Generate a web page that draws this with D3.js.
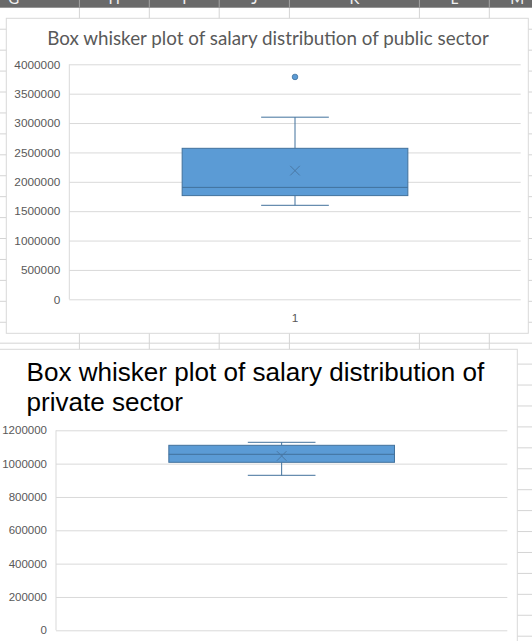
<!DOCTYPE html>
<html>
<head>
<meta charset="utf-8">
<script src="https://cdn.jsdelivr.net/npm/d3@7"></script>
<style>
  html, body { margin: 0; padding: 0; background: #ffffff; }
  svg { display: block; }
</style>
</head>
<body>
<script>
// ---------- DATA ----------
const headerLetters = ["G", "H", "I", "J", "K", "L", "M"];
const categories = ["1"];

const publicTitle = "Box whisker plot of salary distribution of public sector";
const publicTicks = [0, 500000, 1000000, 1500000, 2000000, 2500000, 3000000, 3500000, 4000000];
// [min, q1, median, q3, max]
const publicBox = [1600000, 1765000, 1905000, 2570000, 3100000];
const publicMean = [2190000];
const publicOutliers = [3785000];

const privateTitleLines = ["Box whisker plot of salary distribution of", "private sector"];
const privateTicks = [0, 200000, 400000, 600000, 800000, 1000000, 1200000];
const privateBox = [930000, 1008000, 1056000, 1110000, 1128000];
const privateMean = [1046000];
const privateOutliers = [];

// ---------- STYLE ----------
const W = 532, H = 641;
const BOX_FILL = "#5b9bd5", BOX_STROKE = "#41719c";
const GRID = "#d9d9d9", SHEET = "#d4d4d4", LABEL = "#595959";

const svg = d3.select("body").append("svg").attr("width", W).attr("height", H);

// ---------- spreadsheet background ----------
const colEdges = [-52, 79.4, 149.3, 219.2, 289.4, 419.4, 489.3, 545];
const rowStep = 20.93, rowStart = 8.3;
const rows = d3.range(rowStart + rowStep, H, rowStep);
svg.append("g").selectAll("line").data(rows).join("line")
  .attr("x1", 0).attr("x2", W).attr("y1", d => d).attr("y2", d => d)
  .attr("stroke", SHEET).attr("stroke-width", 1);
svg.append("g").selectAll("line").data(colEdges.slice(1, -1)).join("line")
  .attr("x1", d => d).attr("x2", d => d).attr("y1", 7.7).attr("y2", H)
  .attr("stroke", SHEET).attr("stroke-width", 1);

// header
svg.append("rect").attr("x", 0).attr("y", 0).attr("width", W).attr("height", 7.7).attr("fill", "#6a6a6a");
svg.append("g").selectAll("line").data(colEdges.slice(1, -1)).join("line")
  .attr("x1", d => d).attr("x2", d => d).attr("y1", 0).attr("y2", 7.7)
  .attr("stroke", "#a3a3a3").attr("stroke-width", 1);
svg.append("g").selectAll("text").data(headerLetters).join("text")
  .attr("x", (d, i) => (colEdges[i] + colEdges[i + 1]) / 2)
  .attr("y", 3.5)
  .attr("text-anchor", "middle")
  .attr("font-family", "Lato, 'Open Sans', sans-serif")
  .attr("font-size", 15)
  .attr("fill", "#f2f2f2")
  .text(d => d);

// ---------- helpers ----------
function fitWidth(sel, target) {
  const w = sel.node().getComputedTextLength();
  const fs = parseFloat(sel.attr("font-size"));
  sel.attr("font-size", fs * target / w);
}

function drawChart(opt) {
  const g = svg.append("g");
  // chart area
  g.append("rect")
    .attr("x", opt.frame[0]).attr("y", opt.frame[1])
    .attr("width", opt.frame[2]).attr("height", opt.frame[3])
    .attr("fill", "#ffffff").attr("stroke", GRID).attr("stroke-width", 1);

  const y = d3.scaleLinear().domain([0, d3.max(opt.ticks)]).range([opt.plot.bottom, opt.plot.top]);
  const x = d3.scaleBand().domain(categories).range([opt.plot.left, opt.plot.right])
    .paddingInner(0).paddingOuter(0.5);

  // y axis with gridlines
  const yAxis = d3.axisLeft(y).tickValues(opt.ticks).tickFormat(d3.format("d"))
    .tickSize(-(opt.plot.right - opt.plot.left)).tickPadding(opt.tickPad);
  const ya = g.append("g").attr("transform", `translate(${opt.plot.left},0)`).call(yAxis);
  ya.select(".domain").remove();
  ya.selectAll(".tick line").attr("stroke", GRID).attr("stroke-width", 1);
  ya.selectAll(".tick text")
    .attr("fill", LABEL)
    .attr("font-family", "'Liberation Sans', Arial, sans-serif")
    .attr("font-size", opt.tickFont);

  // left axis line
  g.append("line")
    .attr("x1", opt.plot.left).attr("x2", opt.plot.left)
    .attr("y1", y(d3.max(opt.ticks))).attr("y2", y(0))
    .attr("stroke", GRID).attr("stroke-width", 1);

  // x axis label
  const xAxis = d3.axisBottom(x).tickSize(0).tickPadding(opt.xPad);
  const xa = g.append("g").attr("transform", `translate(0,${y(0)})`).call(xAxis);
  xa.select(".domain").remove();
  xa.selectAll(".tick text")
    .attr("fill", LABEL)
    .attr("font-family", "'Liberation Sans', Arial, sans-serif")
    .attr("font-size", opt.tickFont);

  // box
  const [mn, q1, md, q3, mx] = opt.box;
  const cx = x(categories[0]) + x.bandwidth() / 2;
  const bw = x.bandwidth();
  const capW = bw * 0.3;
  const bg = g.append("g");
  // whiskers
  bg.selectAll("line.wh").data([[mx, q3], [mn, q1]]).join("line").attr("class", "wh")
    .attr("x1", cx).attr("x2", cx)
    .attr("y1", d => y(d[0])).attr("y2", d => y(d[1]))
    .attr("stroke", BOX_STROKE).attr("stroke-width", 1);
  bg.selectAll("line.cap").data([mx, mn]).join("line").attr("class", "cap")
    .attr("x1", cx - capW / 2).attr("x2", cx + capW / 2)
    .attr("y1", d => y(d)).attr("y2", d => y(d))
    .attr("stroke", BOX_STROKE).attr("stroke-width", 1);
  bg.append("rect")
    .attr("x", x(categories[0])).attr("width", bw)
    .attr("y", y(q3)).attr("height", y(q1) - y(q3))
    .attr("fill", BOX_FILL).attr("stroke", BOX_STROKE).attr("stroke-width", 1);
  bg.append("line")
    .attr("x1", x(categories[0])).attr("x2", x(categories[0]) + bw)
    .attr("y1", y(md)).attr("y2", y(md))
    .attr("stroke", BOX_STROKE).attr("stroke-width", 1);
  // mean marker (x)
  const s = 4.8;
  opt.mean.forEach(m => {
    bg.append("path")
      .attr("d", `M${cx - s},${y(m) - s}L${cx + s},${y(m) + s}M${cx - s},${y(m) + s}L${cx + s},${y(m) - s}`)
      .attr("stroke", "#4a78a4").attr("stroke-width", 1).attr("fill", "none");
  });
  // outliers
  bg.selectAll("circle").data(opt.outliers).join("circle")
    .attr("cx", cx).attr("cy", d => y(d)).attr("r", 2.8)
    .attr("fill", BOX_FILL).attr("stroke", BOX_STROKE).attr("stroke-width", 0.8);

  return g;
}

// ---------- chart 1: public sector ----------
const g1 = drawChart({
  frame: [6.3, 18.3, 522, 315],
  plot: { left: 69.3, right: 520.7, top: 64.3, bottom: 299.3 },
  ticks: publicTicks, box: publicBox, mean: publicMean, outliers: publicOutliers,
  tickFont: 11.8, tickPad: 9, xPad: 14
});
const t1 = g1.append("text")
  .attr("x", 268).attr("y", 45)
  .attr("text-anchor", "middle")
  .attr("font-family", "Lato, 'Open Sans', sans-serif")
  .attr("font-size", 18.6)
  .attr("fill", LABEL)
  .text(publicTitle);
fitWidth(t1, 442);

// ---------- chart 2: private sector ----------
const g2 = drawChart({
  frame: [-5, 349.3, 522.3, 310],
  plot: { left: 56, right: 507.3, top: 430.3, bottom: 630.3 },
  ticks: privateTicks, box: privateBox, mean: privateMean, outliers: privateOutliers,
  tickFont: 11.5, tickPad: 9, xPad: 14
});
const t2 = g2.append("text")
  .attr("font-family", "'Liberation Sans', Arial, sans-serif")
  .attr("font-size", 24)
  .attr("fill", "#000000");
t2.selectAll("tspan").data(privateTitleLines).join("tspan")
  .attr("x", 26.5)
  .attr("y", (d, i) => 381 + i * 29.5)
  .text(d => d);
// scale title font so the first line spans the width seen in the reference
const firstLine = t2.select("tspan").node();
const w0 = firstLine.getComputedTextLength();
t2.attr("font-size", 24 * 458 / w0);
</script>
</body>
</html>
